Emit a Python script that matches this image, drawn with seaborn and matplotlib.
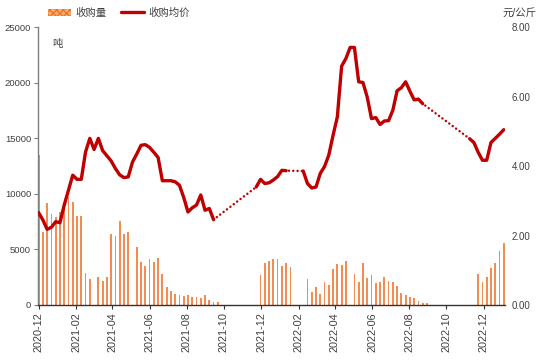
import numpy as np
import pandas as pd
import matplotlib
matplotlib.use('Agg')
import matplotlib.pyplot as plt
import matplotlib.dates as mdates
from matplotlib.patches import Patch
from matplotlib.lines import Line2D
from matplotlib.ticker import FormatStrFormatter
import seaborn as sns

# weekly series, first week 2020-12-01, None = no data that week
START = '2020-12-01'
N_WEEKS = 110

qty = [
    13500, 6600, 9200, 8200, 7900, 8400, 8600, 9700, 9300, 8000,
    8000, 2900, 2300, None, 2500, 2200, 2500, 6350, 6200, 7600,
    6400, 6600, None, 5200, 3900, 3500, 4100, 3900, 4250, 2800,
    1620, 1260, 990, 900, 800, 870, 690, 750, 630, 900,
    420, 300, 240, None, None, None, None, None, None, None,
    None, None, 2700, 3800, 3950, 4100, 4100, 3500, 3750, 3400,
    None, None, None, 2310, 1140, 1590, 990, 2100, 1800, 3210,
    3660, 3570, 3930, None, 2760, 2100, 3750, 2460, 2700, 1950,
    2100, 2550, 2190, 2100, 1680, 1050, 870, 750, 600, 330,
    210, 150, None, None, None, None, None, None, None, None,
    None, None, None, 2760, 2100, 2550, 3300, 3800, 4850, 5600,
]

price = [
    2.66, 2.45, 2.18, 2.24, 2.40, 2.37, 2.88, 3.31, 3.74, 3.62,
    3.62, 4.41, 4.80, 4.48, 4.80, 4.45, 4.30, 4.15, 3.93, 3.75,
    3.67, 3.69, 4.12, 4.35, 4.60, 4.62, 4.54, 4.40, 4.25, 3.58,
    3.58, 3.58, 3.55, 3.45, 3.10, 2.68, 2.80, 2.88, 3.17, 2.73,
    2.78, 2.46, None, None, None, None, None, None, None, None,
    None, 3.40, 3.62, 3.50, 3.52, 3.60, 3.70, 3.88, 3.87, None,
    None, None, 3.86, 3.50, 3.37, 3.40, 3.79, 3.99, 4.32, 4.89,
    5.42, 6.88, 7.10, 7.42, 7.42, 6.43, 6.41, 5.99, 5.37, 5.40,
    5.20, 5.30, 5.31, 5.61, 6.17, 6.26, 6.43, 6.16, 5.91, 5.93,
    5.80, None, None, None, None, None, None, None, None, None,
    None, 4.79, 4.68, 4.40, 4.17, 4.17, 4.68, 4.80, 4.92, 5.05,
]

QTY_LABEL = '收购量'
PRICE_LABEL = '收购均价'
QTY_COLOR = '#F28C52'
PRICE_COLOR = '#C00000'
TEXT_COLOR = '#404040'

sns.set_style('ticks')
plt.rcParams['font.family'] = ['Liberation Sans', 'Noto Sans CJK SC', 'DejaVu Sans']
plt.rcParams['hatch.linewidth'] = 0.8

weeks = pd.date_range(START, periods=N_WEEKS, freq='7D')
df = pd.DataFrame({
    'date': mdates.date2num(weeks),
    'qty': pd.Series(qty, dtype='float'),
    'price': pd.Series(price, dtype='float'),
})
df['seg'] = df['price'].isna().cumsum()

fig = plt.figure(figsize=(5.42, 3.64), dpi=100)
ax = fig.add_axes([38 / 542, 1 - 305 / 364, (505 - 38) / 542, (305 - 27.3) / 364])
ax2 = ax.twinx()

bars = df.dropna(subset=['qty'])
sns.barplot(data=bars, x='date', y='qty', native_scale=True, width=0.42,
            color=QTY_COLOR, saturation=1, errorbar=None, linewidth=0, ax=ax)
for p in ax.patches:
    p.set_antialiased(False)

line_df = df.dropna(subset=['price'])
# dotted line bridges the gaps, solid pieces drawn on top
sns.lineplot(data=line_df, x='date', y='price', color=PRICE_COLOR, lw=1.8,
             linestyle=(0, (0.01, 1.7)), dash_capstyle='round', ax=ax2, legend=False)
sns.lineplot(data=line_df, x='date', y='price', units='seg', estimator=None,
             color=PRICE_COLOR, lw=2.4, solid_joinstyle='round', ax=ax2, legend=False)

ax.set_xlim(mdates.date2num(pd.Timestamp('2020-11-30')),
            mdates.date2num(pd.Timestamp('2023-01-05')))
ax.xaxis.set_major_locator(mdates.MonthLocator(bymonth=[2, 4, 6, 8, 10, 12]))
ax.xaxis.set_major_formatter(mdates.DateFormatter('%Y-%m'))
ax.set_ylim(0, 25000)
ax.set_yticks(range(0, 25001, 5000))
ax2.set_ylim(0, 8)
ax2.set_yticks([0, 2, 4, 6, 8])
ax2.yaxis.set_major_formatter(FormatStrFormatter('%.2f'))

for a in (ax, ax2):
    a.set_xlabel('')
    a.set_ylabel('')
    for s in a.spines.values():
        s.set_visible(False)
ax.spines['left'].set_visible(True)
ax.spines['left'].set_color('#7f7f7f')
ax.spines['left'].set_linewidth(1.0)
ax.spines['bottom'].set_visible(True)
ax.spines['bottom'].set_color('#333333')
ax.spines['bottom'].set_linewidth(1.0)

ax.tick_params(axis='x', labelrotation=90, labelsize=7.8, length=3, width=0.8,
               color='#333333', labelcolor=TEXT_COLOR, pad=2)
ax.tick_params(axis='y', labelsize=6.8, length=3, width=0.8, color='#7f7f7f',
               labelcolor=TEXT_COLOR, pad=2)
ax2.tick_params(axis='y', labelsize=7, length=0, labelcolor=TEXT_COLOR, pad=5)

handles = [
    Patch(facecolor='#F8A86A', edgecolor='#EE6E1E', hatch='xxxxx', lw=0),
    Line2D([], [], color=PRICE_COLOR, lw=2.4),
]
fig.legend(handles, [QTY_LABEL, PRICE_LABEL], loc='center left',
           bbox_to_anchor=(48 / 542, 1 - 13 / 364), ncol=2, frameon=False,
           fontsize=7.5, borderpad=0, borderaxespad=0, handlelength=2.2,
           handletextpad=0.4, columnspacing=1.45, labelcolor=TEXT_COLOR)

fig.text(57 / 542, 1 - 44 / 364, '吨', ha='center', va='center',
         fontsize=7.5, color=TEXT_COLOR)
fig.text(536 / 542, 1 - 12.5 / 364, '元/公斤', ha='right', va='center',
         fontsize=7.5, color=TEXT_COLOR)

fig.savefig('out.png', dpi=100)
